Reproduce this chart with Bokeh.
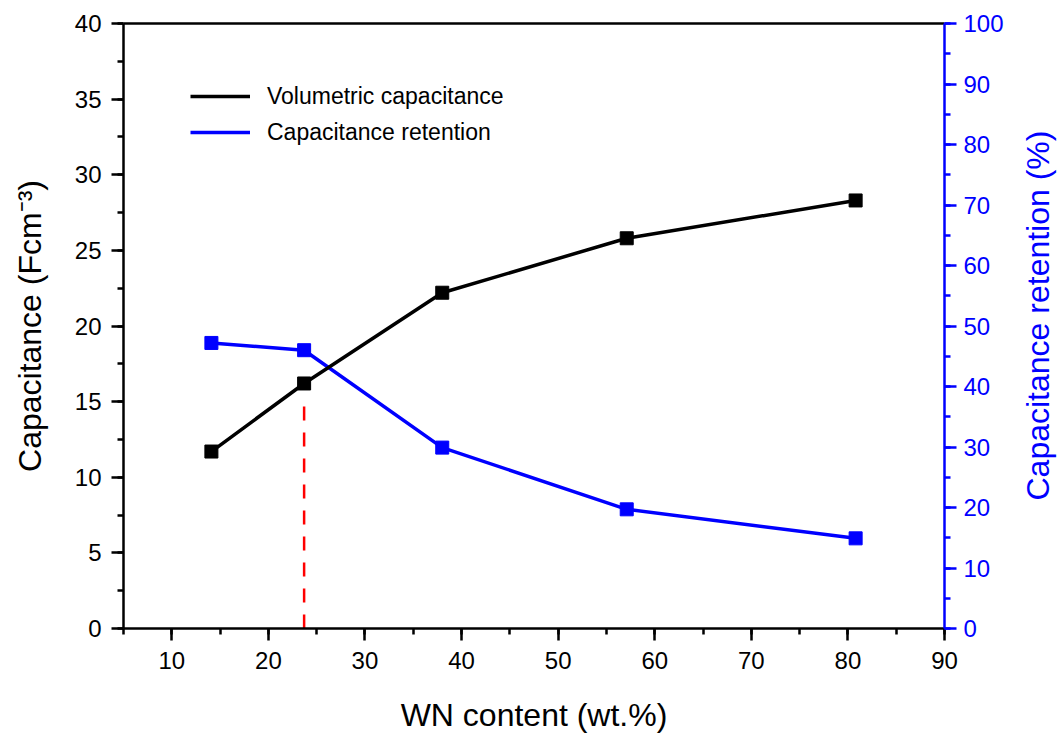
import math
from bokeh.plotting import figure
from bokeh.models import (Range1d, LinearAxis, SingleIntervalTicker, Legend, LegendItem,
                          FixedTicker, Label)
from bokeh.embed import file_html
from bokeh.resources import INLINE

# ---- data ----
wn_content = [14.1, 23.7, 38.0, 57.1, 80.8]
vol_capacitance = [11.7, 16.2, 22.2, 25.8, 28.3]
cap_retention = [47.2, 46.0, 29.9, 19.7, 14.9]
marker_x = 23.7
marker_top = 14.9

FONT = "Liberation Sans"
BLUE = "#0000FF"

p = figure(width=1060, height=743, output_backend="svg", toolbar_location=None,
           x_range=Range1d(5, 90), y_range=Range1d(0, 40),
           min_border_left=123, min_border_right=116, min_border_top=23, min_border_bottom=115)
p.extra_y_ranges = {"ret": Range1d(0, 100)}
p.grid.visible = False
p.outline_line_color = None
p.background_fill_color = "white"
p.border_fill_color = "white"

def style_axis(ax, color):
    ax.axis_line_color = color
    ax.axis_line_width = 2.5
    ax.major_tick_line_color = color
    ax.minor_tick_line_color = color
    ax.major_tick_line_width = 2.5
    ax.minor_tick_line_width = 2.5
    ax.major_tick_out = 12
    ax.major_tick_in = 0
    ax.minor_tick_out = 6
    ax.minor_tick_in = 0
    ax.major_label_text_font = FONT
    ax.major_label_text_font_size = "24px"
    ax.major_label_text_color = color
    ax.axis_label_text_font = FONT
    ax.axis_label_text_font_size = "32px"
    ax.axis_label_text_font_style = "normal"
    ax.axis_label_text_color = color

# bottom axis
xa = p.xaxis[0]
xa.ticker = SingleIntervalTicker(interval=10, num_minor_ticks=2)
xa.axis_label = "WN content (wt.%)"
style_axis(xa, "black")
xa.major_label_standoff = 11
xa.axis_label_standoff = 25

# left axis
ya = p.yaxis[0]
ya.ticker = SingleIntervalTicker(interval=5, num_minor_ticks=2)
ya.axis_label = "Capacitance (Fcm\u207B\u00B3)"
style_axis(ya, "black")
ya.major_label_standoff = 10
ya.axis_label_standoff = 24

# right axis (label drawn separately so that it reads bottom-to-top)
ra = LinearAxis(y_range_name="ret", ticker=SingleIntervalTicker(interval=10, num_minor_ticks=2))
style_axis(ra, BLUE)
ra.major_label_standoff = 7
p.add_layout(ra, "right")

right_label = Label(x=31, y=313, x_units="screen", y_units="screen",
                    text="Capacitance retention (%)",
                    angle=math.pi / 2, text_align="center", text_baseline="middle",
                    text_font=FONT, text_font_size="32px", text_color=BLUE)
p.add_layout(right_label, "right")

# top border line
ta = LinearAxis(ticker=FixedTicker(ticks=[]))
ta.axis_line_color = "black"
ta.axis_line_width = 2.5
ta.major_tick_line_color = None
ta.minor_tick_line_color = None
ta.major_label_text_font_size = "0px"
p.add_layout(ta, "above")

# red dashed marker line
p.segment(x0=[marker_x], y0=[0], x1=[marker_x], y1=[marker_top],
          line_color="#FF0000", line_width=2.5, line_dash="14 12")

# series
l_blue = p.line(wn_content, cap_retention, y_range_name="ret", line_color=BLUE, line_width=3.5)
l_black = p.line(wn_content, vol_capacitance, line_color="black", line_width=3.5)
p.scatter(wn_content, cap_retention, y_range_name="ret", marker="square", size=13,
          fill_color=BLUE, line_color=BLUE)
p.scatter(wn_content, vol_capacitance, marker="square", size=13,
          fill_color="black", line_color="black")

legend = Legend(items=[LegendItem(label="Volumetric capacitance", renderers=[l_black]),
                       LegendItem(label="Capacitance retention", renderers=[l_blue])],
                location=(67, 478))
legend.border_line_color = None
legend.background_fill_alpha = 0
legend.padding = 0
legend.margin = 0
legend.spacing = 0
legend.glyph_width = 60
legend.glyph_height = 36
legend.label_height = 36
legend.label_standoff = 17
legend.label_text_font = FONT
legend.label_text_font_size = "23px"
legend.label_text_color = "black"
p.add_layout(legend, "center")

open("out.html", "w").write(file_html(p, INLINE))
